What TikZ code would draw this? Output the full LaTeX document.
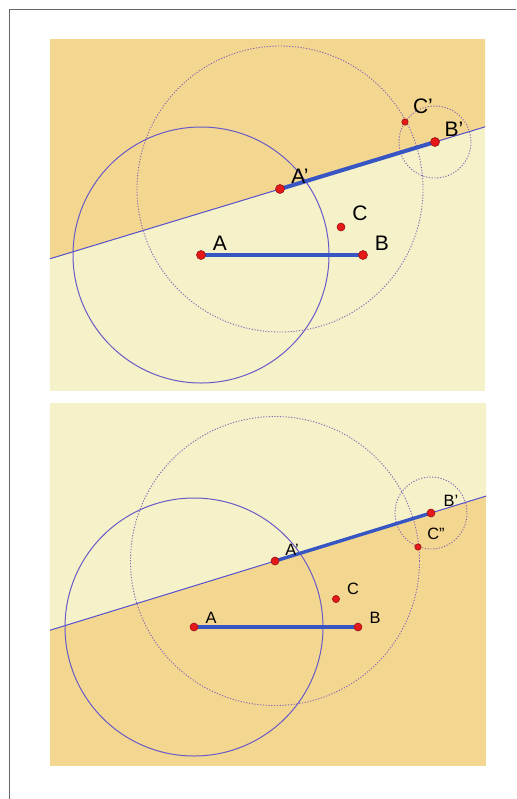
\documentclass[tikz,border=0pt]{standalone}
\usepackage{fontspec}
\setmainfont{Liberation Sans}
\usetikzlibrary{calc}
\definecolor{HalfOrange}{RGB}{243,215,145}
\definecolor{HalfCream}{RGB}{245,241,201}
\definecolor{SegBlue}{RGB}{55,85,195}
\definecolor{LineBlue}{RGB}{85,80,205}
\definecolor{CircPurple}{RGB}{105,90,200}
\definecolor{DotPurple}{RGB}{135,100,180}
\definecolor{PtRed}{RGB}{230,25,25}
\definecolor{PtDark}{RGB}{150,20,20}
\tikzset{
  pt/.style={circle, fill=PtRed, draw=PtDark, line width=0.3pt, inner sep=0pt, minimum size=4.5pt},
  smallpt/.style={pt, minimum size=3.2pt},
  lbl/.style={inner sep=0pt, font=\fontsize{10.5}{12}\selectfont},
  slbl/.style={inner sep=0pt, font=\fontsize{8.2}{10}\selectfont},
  seg/.style={SegBlue, line width=2pt},
  thinline/.style={LineBlue, line width=0.5pt},
  solidcirc/.style={CircPurple, line width=0.5pt},
  dotcirc/.style={DotPurple, line width=0.45pt, dash pattern=on 0.6pt off 0.8pt},
}
\begin{document}
\begin{tikzpicture}[x=0.5pt, y=-0.5pt]
  \useasboundingbox (0,0) rectangle (516,799);
  \draw[black!60, line width=0.55pt] (9.5,799) -- (9.5,9.5) -- (516,9.5);
  % first picture: the half plane above the line is shaded
  \begin{scope}
    \clip (50,39) rectangle (485,391);
    \fill[HalfCream] (50,39) rectangle (485,391);
    \coordinate (A) at (201,255);
    \coordinate (B) at (363,255);
    \coordinate (C) at (341,227);
    \coordinate (Ap) at (280,189);
    \coordinate (Bp) at (435,142);
    \coordinate (Cp) at (405,122);
    \fill[HalfOrange] ($(Ap)!-3!(Bp)$) -- ($(Ap)!4!(Bp)$) -- ++(0,-600) -- ($(Ap)!-3!(Bp)+(0,-600)$) -- cycle;
    \draw[thinline] ($(Ap)!-3!(Bp)$) -- ($(Ap)!4!(Bp)$);
    \draw[solidcirc] (A) circle [radius=128];
    \draw[dotcirc] (Ap) circle [radius=143];
    \draw[dotcirc] (Bp) circle [radius=36];
    \draw[seg] (A) -- (B);
    \draw[seg] (Ap) -- (Bp);
  \end{scope}
  \node[pt] (ptA) at (A) {};
  \node[pt] (ptB) at (B) {};
  \node[pt, minimum size=4pt] (ptC) at (C) {};
  \node[pt] (ptAp) at (Ap) {};
  \node[pt] (ptBp) at (Bp) {};
  \node[smallpt] (ptCp) at (Cp) {};
  \node[lbl] (labA) at (220,243) {A};
  \node[lbl] (labB) at (382,243) {B};
  \node[lbl] (labC) at (360,213) {C};
  \node[lbl] (labAp) at (300,176) {A'};
  \node[lbl] (labBp) at (454,129) {B'};
  \node[lbl] (labCp) at (423,106) {C'};
  % second picture: the half plane below the line is shaded
  \begin{scope}
    \clip (50,403) rectangle (486,766);
    \fill[HalfOrange] (50,403) rectangle (486,766);
    \coordinate (A2) at (194,627);
    \coordinate (B2) at (358,627);
    \coordinate (C2) at (336,599);
    \coordinate (Ap2) at (275,561);
    \coordinate (Bp2) at (431,513);
    \coordinate (Cpp2) at (418,547);
    \fill[HalfCream] ($(Ap2)!-3!(Bp2)$) -- ($(Ap2)!4!(Bp2)$) -- ++(0,-600) -- ($(Ap2)!-3!(Bp2)+(0,-600)$) -- cycle;
    \draw[thinline] ($(Ap2)!-3!(Bp2)$) -- ($(Ap2)!4!(Bp2)$);
    \draw[solidcirc] (A2) circle [radius=129];
    \draw[dotcirc] (Ap2) circle [radius=144.5];
    \draw[dotcirc] (Bp2) circle [radius=36];
    \draw[seg, line width=1.7pt] (A2) -- (B2);
    \draw[seg, line width=1.7pt] (Ap2) -- (Bp2);
  \end{scope}
  \node[pt, minimum size=4pt] (ptA2) at (A2) {};
  \node[pt, minimum size=4pt] (ptB2) at (B2) {};
  \node[pt, minimum size=3.6pt] (ptC2) at (C2) {};
  \node[pt, minimum size=4pt] (ptAp2) at (Ap2) {};
  \node[pt, minimum size=4pt] (ptBp2) at (Bp2) {};
  \node[smallpt] (ptCpp2) at (Cpp2) {};
  \node[slbl] (labA2) at (211,618) {A};
  \node[slbl] (labB2) at (375,618) {B};
  \node[slbl] (labC2) at (353,589) {C};
  \node[slbl] (labAp2) at (292,550) {A'};
  \node[slbl] (labBp2) at (451,501) {B'};
  \node[slbl] (labCpp2) at (436,534) {C''};
\end{tikzpicture}
\end{document}
